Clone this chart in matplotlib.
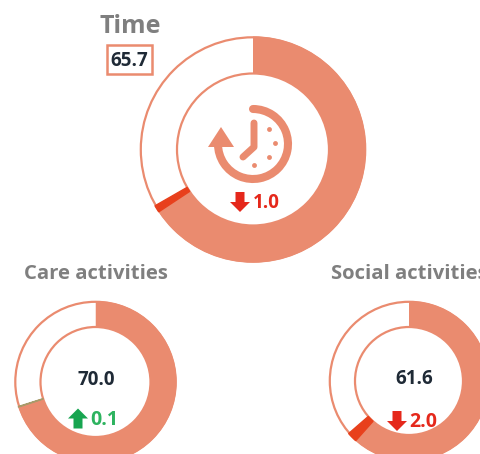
import matplotlib
matplotlib.use('Agg')
import matplotlib.pyplot as plt
from matplotlib.patches import Arc, Circle, Polygon, Rectangle

W, H = 481, 454

titles = ['Time', 'Care activities', 'Social activities']
scores = [65.7, 70.0, 61.6]
changes = [-1.0, 0.1, -2.0]

salmon = '#EA8B6F'
red = '#E5281B'
marker_red = '#E8401C'
green = '#17A550'
marker_green = '#A89A6A'
grey = '#7F7F7F'
dark = '#1F2A36'

plt.rcParams['font.family'] = ['Open Sans', 'DejaVu Sans']
fig = plt.figure(figsize=(W / 100, H / 100), dpi=100)
fig.patch.set_facecolor('white')


def donut(cx, cy, r, r_in, score, change):
    # axes placed in pixels, y from the top like the picture
    ax = fig.add_axes([(cx - r) / W, 1 - (cy + r) / H, 2 * r / W, 2 * r / H])
    ax.axis('off')
    width = 1 - r_in / r
    lost = abs(change)
    rest = 100 - score - lost
    col = marker_red if change < 0 else marker_green
    wedges, _ = ax.pie([score, lost, rest], colors=[salmon, col, 'white'], radius=1,
                       startangle=90, counterclock=False,
                       wedgeprops=dict(width=width, linewidth=0), frame=False)
    for w in wedges:
        w.set_clip_on(False)
    # the 0.1 slice would vanish without an edge, so it goes on top with one
    wedges[1].set_edgecolor(col)
    wedges[1].set_linewidth(1.0)
    wedges[1].set_zorder(5)
    ax.set_xlim(-1, 1)
    ax.set_ylim(-1, 1)
    # thin outline of the ring
    lw = 1.6
    ax.add_patch(Circle((0, 0), 1 - lw * 0.5 / r, fill=False, ec=salmon, lw=lw, clip_on=False))
    ax.add_patch(Circle((0, 0), r_in / r, fill=False, ec=salmon, lw=lw, clip_on=False))
    return ax


donut(253, 149.5, 113, 76, scores[0], changes[0])
donut(95.5, 382, 81, 55, scores[1], changes[1])
donut(409, 381, 80, 54, scores[2], changes[2])

# overlay in picture pixels
ov = fig.add_axes([0, 0, 1, 1])
ov.set_xlim(0, W)
ov.set_ylim(H, 0)
ov.axis('off')
ov.patch.set_alpha(0)


def arrow(x, y, up, color):
    # x is the centre, y the tip end of a 20 x 20 px block arrow
    d = 1 if up else -1
    pts = [(x, y), (x + 10, y + d * 10), (x + 4.5, y + d * 10), (x + 4.5, y + d * 20),
           (x - 4.5, y + d * 20), (x - 4.5, y + d * 10), (x - 10, y + d * 10)]
    ov.add_patch(Polygon(pts, closed=True, fc=color, ec='none'))


# titles
ov.text(100, 33, titles[0], fontsize=18, fontweight='bold', color=grey, ha='left', va='baseline')
ov.text(24, 279, titles[1], fontsize=14.6, fontweight='bold', color=grey, ha='left', va='baseline')
ov.text(331, 279, titles[2], fontsize=14.6, fontweight='bold', color=grey, ha='left', va='baseline')

# score box for the main ring
ov.add_patch(Rectangle((107, 45), 45.5, 28.5, fc='white', ec=salmon, lw=1.8))
ov.text(129.5, 66.5, f'{scores[0]:.1f}', fontsize=13.5, fontweight='bold', color=dark,
        ha='center', va='baseline')
ov.text(96.5, 385, f'{scores[1]:.1f}', fontsize=13.5, fontweight='bold', color=dark,
        ha='center', va='baseline')
ov.text(414, 384, f'{scores[2]:.1f}', fontsize=13.5, fontweight='bold', color=dark,
        ha='center', va='baseline')

# changes
arrow(240, 212, False, red)
ov.text(253, 208, f'{abs(changes[0]):.1f}', fontsize=13.5, color=red, fontweight='bold', ha='left', va='baseline')
arrow(78, 408.5, True, green)
ov.text(90, 425, f'{abs(changes[1]):.1f}', fontsize=14, color='#2DB35F', fontweight='bold', ha='left', va='baseline')
arrow(397, 431, False, red)
ov.text(409, 427, f'{abs(changes[2]):.1f}', fontsize=14, color=red, fontweight='bold', ha='left', va='baseline')

# clock icon
ov.add_patch(Arc((253, 144), 70, 70, theta1=-90, theta2=180, ec=salmon, lw=5.8, capstyle='round'))
ov.add_patch(Polygon([(221, 127), (208, 147), (234, 147)], closed=True, fc=salmon, ec='none'))
ov.plot([254, 254, 243], [123, 147, 157], color=salmon, lw=5, solid_capstyle='round', solid_joinstyle='round')
ov.plot([269, 275, 269, 254], [129, 143, 157, 165], ls='none', marker='o', ms=3.5, color=salmon, mew=0)

fig.savefig('out.png', dpi=100, facecolor='white')
